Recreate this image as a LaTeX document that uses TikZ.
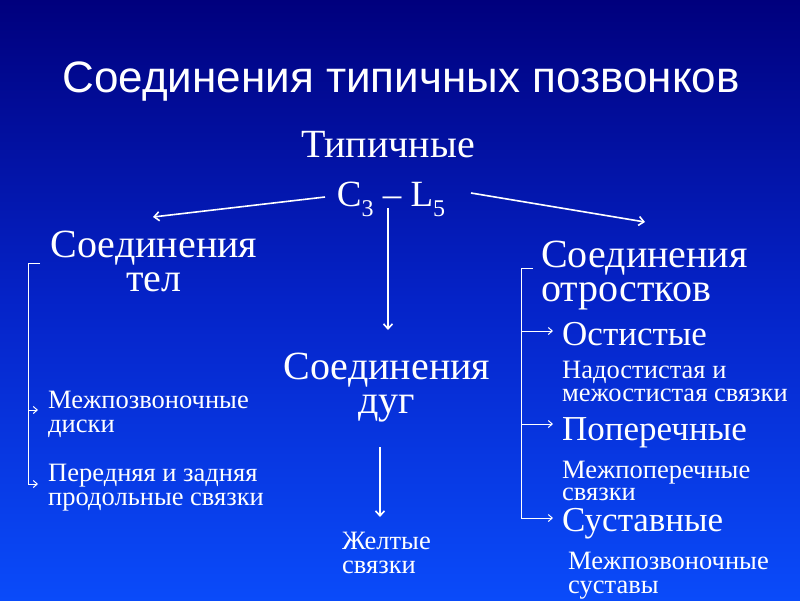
\documentclass[tikz,border=0pt]{standalone}
\usepackage{fontspec}
\setmainfont{Liberation Serif}
\newfontfamily\titlefont{Liberation Sans}
\usetikzlibrary{arrows.meta}

\definecolor{bgtop}{RGB}{0,0,125}
\definecolor{bgmid}{RGB}{5,35,200}
\definecolor{bgbot}{RGB}{10,75,250}

\tikzset{
    txt/.style={text=white, inner sep=0pt, align=left},
    kopf/.style={txt, font=\fontsize{40}{34}\selectfont},
    big/.style={txt, font=\fontsize{35}{34}\selectfont},
    small/.style={txt, font=\fontsize{26.5}{24}\selectfont},
    pfeil/.style={draw=white, line width=1.6pt, -{Straight Barb[length=5pt,width=9pt]}},
    klammer/.style={draw=white, line width=1pt},
    kpfeil/.style={draw=white, line width=1pt, -{Straight Barb[length=4pt,width=7pt]}}
}

\newcommand{\tief}[1]{\raisebox{-0.28em}{\fontsize{24}{24}\selectfont #1}}

\begin{document}
\begin{tikzpicture}[x=1pt, y=-1pt]
    % Hintergrund
    \shade[top color=bgtop, bottom color=bgbot, middle color=bgmid] (0,0) rectangle (800,600);
    \useasboundingbox (0,0) rectangle (800,600);

    % Titel
    \node[txt, anchor=base, font=\titlefont\fontsize{44}{46}\selectfont] (titel) at (401,92) {Соединения типичных позвонков};

    % Oberer Knoten
    \node[kopf, anchor=base] (typ) at (388,157) {Типичные};
    \node[txt, anchor=base, font=\fontsize{37}{37}\selectfont] (cl) at (391,206) {C\tief{3} -- L\tief{5}};

    % Spalten
    \node[kopf, anchor=north, align=center] (tel) at (154,231) {Соединения\\тел};
    \node[kopf, anchor=north, align=center] (dug) at (387,353) {Соединения\\дуг};
    \node[kopf, anchor=north west] (otr) at (541,241) {Соединения\\отростков};

    % links
    \node[small, anchor=north west] (disk) at (48,391) {Межпозвоночные\\диски};
    \node[small, anchor=north west] (prod) at (48,464) {Передняя и задняя\\продольные связки};

    % mitte
    \node[small, anchor=north west] (gelb) at (342,532) {Желтые\\связки};

    % rechts
    \node[big, anchor=base west] (ost) at (562,345) {Остистые};
    \node[small, anchor=north west, font=\fontsize{26.5}{23}\selectfont] (nad) at (562,361) {Надостистая и\\межостистая связки};
    \node[big, anchor=base west] (pop) at (562,440) {Поперечные};
    \node[small, anchor=north west, font=\fontsize{26.5}{22}\selectfont] (mpop) at (562,461) {Межпоперечные\\связки};
    \node[big, anchor=base west] (sust) at (562,531) {Суставные};
    \node[small, anchor=north west] (mpz) at (568,552) {Межпозвоночные\\суставы};

    % Pfeile vom oberen Knoten
    \coordinate (cl-l) at (325,197);
    \coordinate (cl-r) at (471,193);
    \coordinate (cl-u) at (388,208);
    \coordinate (tel-o) at (153,217);
    \coordinate (otr-o) at (645,222);
    \draw[pfeil] (cl-l) -- (tel-o);
    \draw[pfeil] (cl-r) -- (otr-o);
    \draw[pfeil] (cl-u) -- (388,330);
    \draw[pfeil] (380,447) -- (380,517);

    % Klammer links
    \draw[klammer] (40,263) -- (28,263) -- (28,484);
    \draw[kpfeil] (28,410) -- (38,410);
    \draw[kpfeil] (28,484) -- (38,484);

    % Klammer rechts
    \draw[klammer] (533,268) -- (521,268) -- (521,518);
    \foreach \y in {331,424,518} {
        \draw[kpfeil] (521,\y) -- (553,\y);
    }
\end{tikzpicture}
\end{document}
